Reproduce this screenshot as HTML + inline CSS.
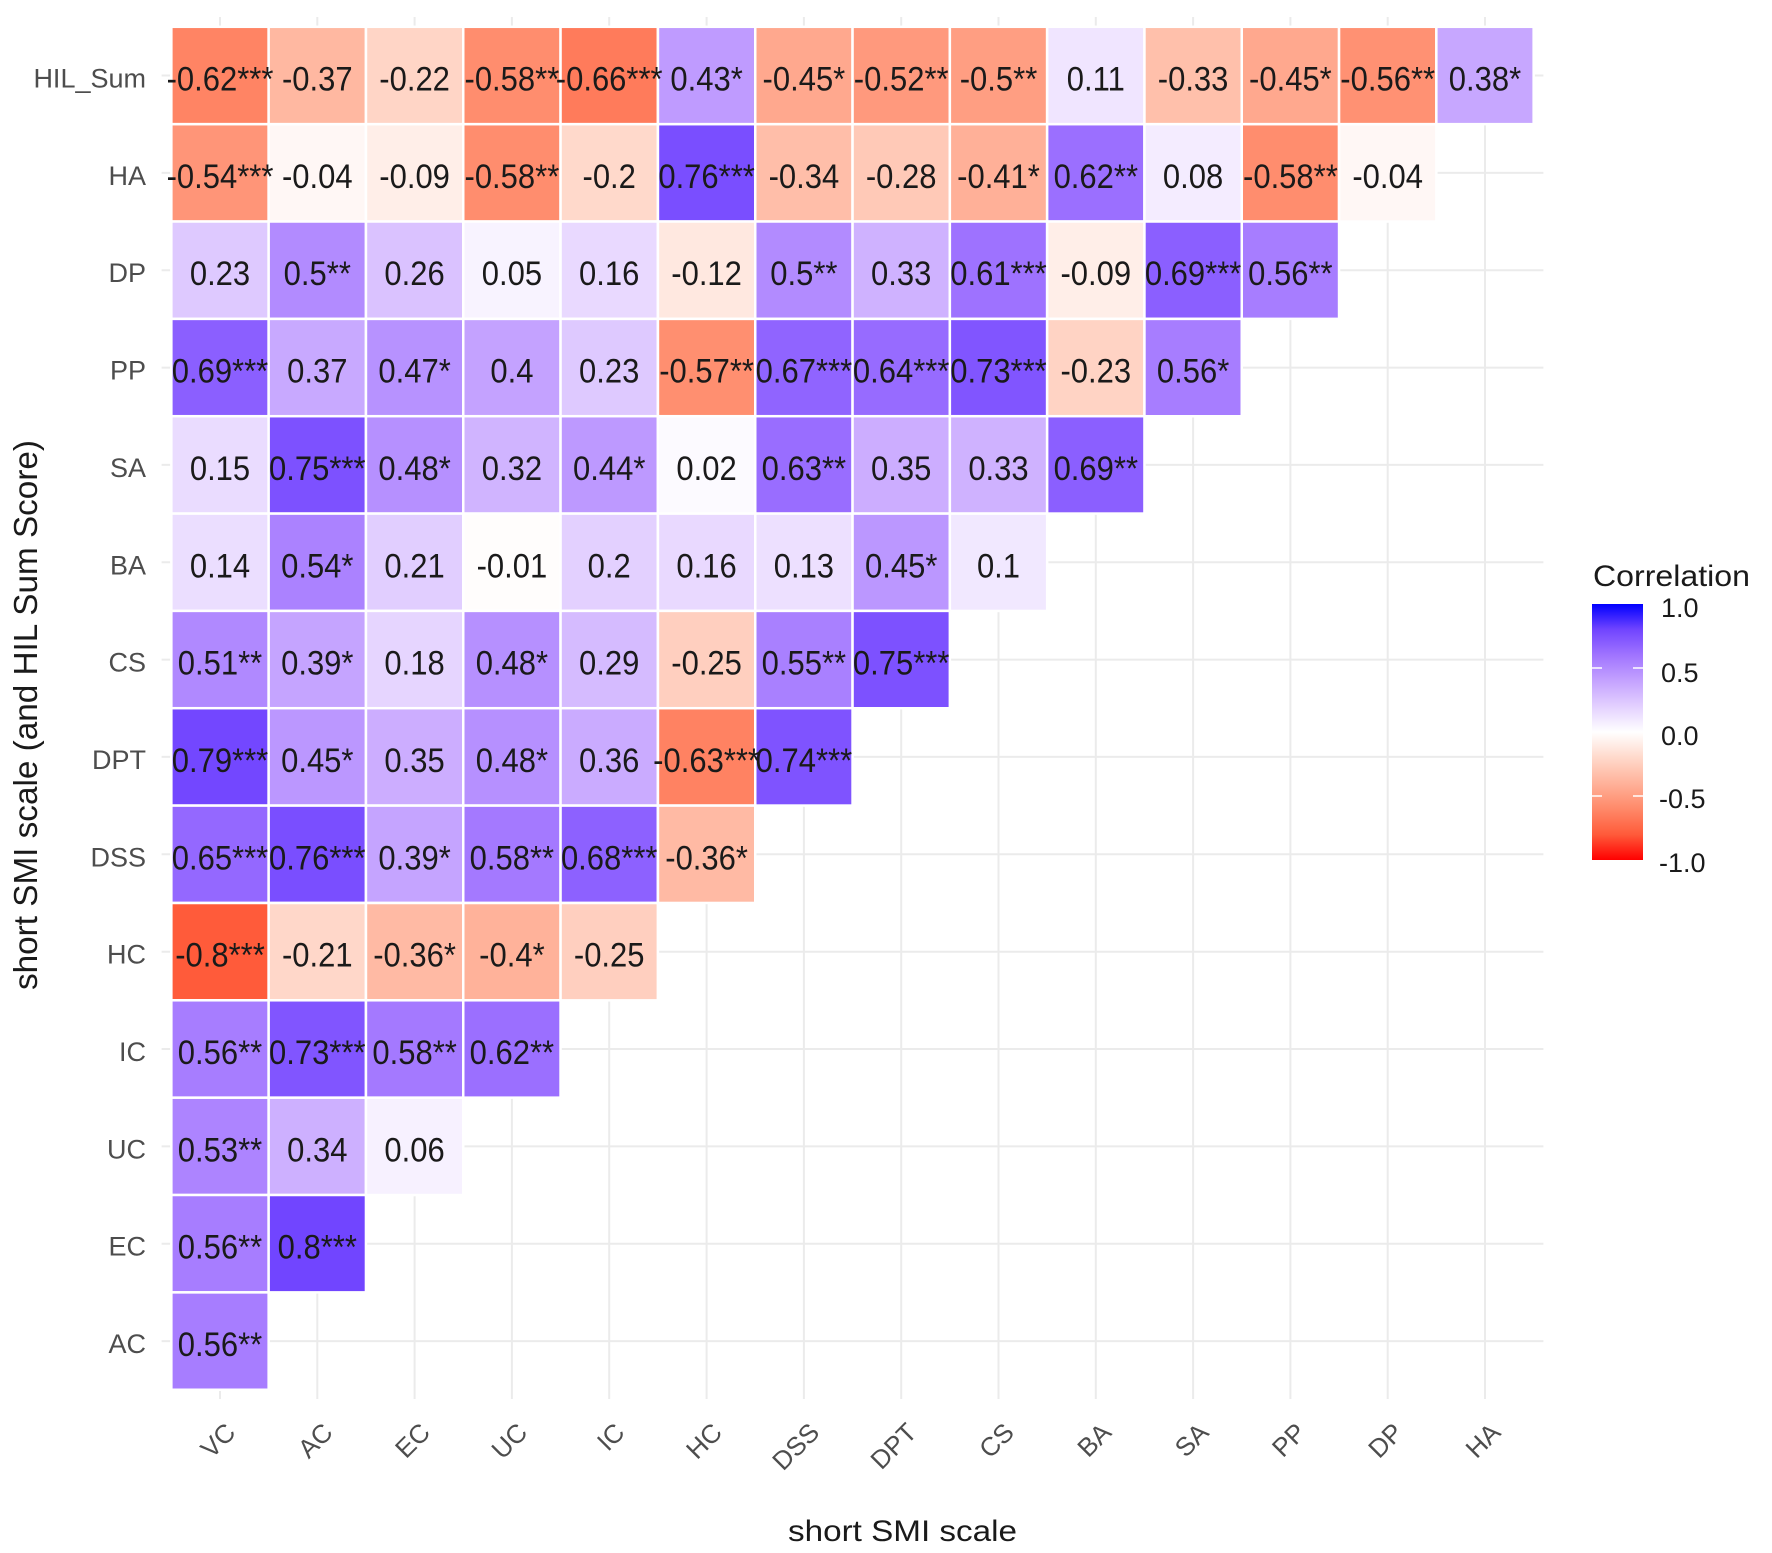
<!DOCTYPE html>
<html><head><meta charset="utf-8"><style>
html,body{margin:0;padding:0;background:#fff;}
svg{display:block;}
text{font-family:"Liberation Sans",Arial,sans-serif;}
</style></head><body>
<svg width="1772" height="1553" viewBox="0 0 1772 1553" xmlns="http://www.w3.org/2000/svg">
<defs>
<linearGradient id="cb" x1="0" y1="0" x2="0" y2="1">
<stop offset="0" stop-color="#0000FF"/>
<stop offset="0.1" stop-color="#7145FF"/>
<stop offset="0.2" stop-color="#A074FF"/>
<stop offset="0.3" stop-color="#C4A2FF"/>
<stop offset="0.4" stop-color="#E3D0FF"/>
<stop offset="0.5" stop-color="#FFFFFF"/>
<stop offset="0.6" stop-color="#FFD9CB"/>
<stop offset="0.7" stop-color="#FFB29A"/>
<stop offset="0.8" stop-color="#FF8969"/>
<stop offset="0.9" stop-color="#FF5B3A"/>
<stop offset="1" stop-color="#FF0000"/>
</linearGradient>
</defs>
<rect width="1772" height="1553" fill="#fff"/>
<!-- gridlines -->
<g stroke="#EBEBEB" stroke-width="2">
<line x1="220" y1="17" x2="220" y2="1399"/><line x1="317.3" y1="17" x2="317.3" y2="1399"/><line x1="414.6" y1="17" x2="414.6" y2="1399"/><line x1="511.9" y1="17" x2="511.9" y2="1399"/><line x1="609.2" y1="17" x2="609.2" y2="1399"/><line x1="706.6" y1="17" x2="706.6" y2="1399"/><line x1="803.9" y1="17" x2="803.9" y2="1399"/><line x1="901.2" y1="17" x2="901.2" y2="1399"/><line x1="998.5" y1="17" x2="998.5" y2="1399"/><line x1="1095.8" y1="17" x2="1095.8" y2="1399"/><line x1="1193.1" y1="17" x2="1193.1" y2="1399"/><line x1="1290.4" y1="17" x2="1290.4" y2="1399"/><line x1="1387.7" y1="17" x2="1387.7" y2="1399"/><line x1="1485" y1="17" x2="1485" y2="1399"/>
<line x1="161.6" y1="75.5" x2="1543.4" y2="75.5"/><line x1="161.6" y1="172.9" x2="1543.4" y2="172.9"/><line x1="161.6" y1="270.2" x2="1543.4" y2="270.2"/><line x1="161.6" y1="367.6" x2="1543.4" y2="367.6"/><line x1="161.6" y1="464.9" x2="1543.4" y2="464.9"/><line x1="161.6" y1="562.3" x2="1543.4" y2="562.3"/><line x1="161.6" y1="659.6" x2="1543.4" y2="659.6"/><line x1="161.6" y1="756.9" x2="1543.4" y2="756.9"/><line x1="161.6" y1="854.3" x2="1543.4" y2="854.3"/><line x1="161.6" y1="951.7" x2="1543.4" y2="951.7"/><line x1="161.6" y1="1049" x2="1543.4" y2="1049"/><line x1="161.6" y1="1146.4" x2="1543.4" y2="1146.4"/><line x1="161.6" y1="1243.7" x2="1543.4" y2="1243.7"/><line x1="161.6" y1="1341.1" x2="1543.4" y2="1341.1"/>
</g>
<!-- tiles -->
<g stroke="#fff" stroke-width="2.5">
<rect x="171.35" y="26.8" width="97.3" height="97.35" fill="#FF8464"/>
<rect x="268.65" y="26.8" width="97.3" height="97.35" fill="#FFB8A1"/>
<rect x="365.95" y="26.8" width="97.3" height="97.35" fill="#FFD5C6"/>
<rect x="463.25" y="26.8" width="97.3" height="97.35" fill="#FF8D6E"/>
<rect x="560.55" y="26.8" width="97.3" height="97.35" fill="#FF7B5B"/>
<rect x="657.95" y="26.8" width="97.3" height="97.35" fill="#BF9BFF"/>
<rect x="755.25" y="26.8" width="97.3" height="97.35" fill="#FFA88E"/>
<rect x="852.55" y="26.8" width="97.3" height="97.35" fill="#FF997D"/>
<rect x="949.85" y="26.8" width="97.3" height="97.35" fill="#FF9E82"/>
<rect x="1047.15" y="26.8" width="97.3" height="97.35" fill="#F0E5FF"/>
<rect x="1144.45" y="26.8" width="97.3" height="97.35" fill="#FFC0AB"/>
<rect x="1241.75" y="26.8" width="97.3" height="97.35" fill="#FFA88E"/>
<rect x="1339.05" y="26.8" width="97.3" height="97.35" fill="#FF9173"/>
<rect x="1436.35" y="26.8" width="97.3" height="97.35" fill="#C7A7FF"/>
<rect x="171.35" y="124.2" width="97.3" height="97.35" fill="#FF9578"/>
<rect x="268.65" y="124.2" width="97.3" height="97.35" fill="#FFF7F5"/>
<rect x="365.95" y="124.2" width="97.3" height="97.35" fill="#FFEEE8"/>
<rect x="463.25" y="124.2" width="97.3" height="97.35" fill="#FF8D6E"/>
<rect x="560.55" y="124.2" width="97.3" height="97.35" fill="#FFD9CB"/>
<rect x="657.95" y="124.2" width="97.3" height="97.35" fill="#7A4EFF"/>
<rect x="755.25" y="124.2" width="97.3" height="97.35" fill="#FFBEA9"/>
<rect x="852.55" y="124.2" width="97.3" height="97.35" fill="#FFC9B7"/>
<rect x="949.85" y="124.2" width="97.3" height="97.35" fill="#FFB098"/>
<rect x="1047.15" y="124.2" width="97.3" height="97.35" fill="#9B6FFF"/>
<rect x="1144.45" y="124.2" width="97.3" height="97.35" fill="#F4ECFF"/>
<rect x="1241.75" y="124.2" width="97.3" height="97.35" fill="#FF8D6E"/>
<rect x="1339.05" y="124.2" width="97.3" height="97.35" fill="#FFF7F5"/>
<rect x="171.35" y="221.5" width="97.3" height="97.35" fill="#DEC9FF"/>
<rect x="268.65" y="221.5" width="97.3" height="97.35" fill="#B28BFF"/>
<rect x="365.95" y="221.5" width="97.3" height="97.35" fill="#DAC2FF"/>
<rect x="463.25" y="221.5" width="97.3" height="97.35" fill="#F8F3FF"/>
<rect x="560.55" y="221.5" width="97.3" height="97.35" fill="#E9D9FF"/>
<rect x="657.95" y="221.5" width="97.3" height="97.35" fill="#FFE8E0"/>
<rect x="755.25" y="221.5" width="97.3" height="97.35" fill="#B28BFF"/>
<rect x="852.55" y="221.5" width="97.3" height="97.35" fill="#CFB2FF"/>
<rect x="949.85" y="221.5" width="97.3" height="97.35" fill="#9E72FF"/>
<rect x="1047.15" y="221.5" width="97.3" height="97.35" fill="#FFEEE8"/>
<rect x="1144.45" y="221.5" width="97.3" height="97.35" fill="#8B5FFF"/>
<rect x="1241.75" y="221.5" width="97.3" height="97.35" fill="#A77DFF"/>
<rect x="171.35" y="318.9" width="97.3" height="97.35" fill="#8B5FFF"/>
<rect x="268.65" y="318.9" width="97.3" height="97.35" fill="#C8A9FF"/>
<rect x="365.95" y="318.9" width="97.3" height="97.35" fill="#B792FF"/>
<rect x="463.25" y="318.9" width="97.3" height="97.35" fill="#C4A2FF"/>
<rect x="560.55" y="318.9" width="97.3" height="97.35" fill="#DEC9FF"/>
<rect x="657.95" y="318.9" width="97.3" height="97.35" fill="#FF8F70"/>
<rect x="755.25" y="318.9" width="97.3" height="97.35" fill="#9064FF"/>
<rect x="852.55" y="318.9" width="97.3" height="97.35" fill="#976BFF"/>
<rect x="949.85" y="318.9" width="97.3" height="97.35" fill="#8155FF"/>
<rect x="1047.15" y="318.9" width="97.3" height="97.35" fill="#FFD3C4"/>
<rect x="1144.45" y="318.9" width="97.3" height="97.35" fill="#A77DFF"/>
<rect x="171.35" y="416.2" width="97.3" height="97.35" fill="#EADCFF"/>
<rect x="268.65" y="416.2" width="97.3" height="97.35" fill="#7D51FF"/>
<rect x="365.95" y="416.2" width="97.3" height="97.35" fill="#B690FF"/>
<rect x="463.25" y="416.2" width="97.3" height="97.35" fill="#D0B4FF"/>
<rect x="560.55" y="416.2" width="97.3" height="97.35" fill="#BD99FF"/>
<rect x="657.95" y="416.2" width="97.3" height="97.35" fill="#FCFAFF"/>
<rect x="755.25" y="416.2" width="97.3" height="97.35" fill="#996DFF"/>
<rect x="852.55" y="416.2" width="97.3" height="97.35" fill="#CCADFF"/>
<rect x="949.85" y="416.2" width="97.3" height="97.35" fill="#CFB2FF"/>
<rect x="1047.15" y="416.2" width="97.3" height="97.35" fill="#8B5FFF"/>
<rect x="171.35" y="513.6" width="97.3" height="97.35" fill="#EBDEFF"/>
<rect x="268.65" y="513.6" width="97.3" height="97.35" fill="#AB82FF"/>
<rect x="365.95" y="513.6" width="97.3" height="97.35" fill="#E1CEFF"/>
<rect x="463.25" y="513.6" width="97.3" height="97.35" fill="#FFFDFC"/>
<rect x="560.55" y="513.6" width="97.3" height="97.35" fill="#E3D0FF"/>
<rect x="657.95" y="513.6" width="97.3" height="97.35" fill="#E9D9FF"/>
<rect x="755.25" y="513.6" width="97.3" height="97.35" fill="#EDE0FF"/>
<rect x="852.55" y="513.6" width="97.3" height="97.35" fill="#BB97FF"/>
<rect x="949.85" y="513.6" width="97.3" height="97.35" fill="#F1E8FF"/>
<rect x="171.35" y="610.9" width="97.3" height="97.35" fill="#B089FF"/>
<rect x="268.65" y="610.9" width="97.3" height="97.35" fill="#C5A4FF"/>
<rect x="365.95" y="610.9" width="97.3" height="97.35" fill="#E6D5FF"/>
<rect x="463.25" y="610.9" width="97.3" height="97.35" fill="#B690FF"/>
<rect x="560.55" y="610.9" width="97.3" height="97.35" fill="#D5BBFF"/>
<rect x="657.95" y="610.9" width="97.3" height="97.35" fill="#FFCFBF"/>
<rect x="755.25" y="610.9" width="97.3" height="97.35" fill="#A980FF"/>
<rect x="852.55" y="610.9" width="97.3" height="97.35" fill="#7D51FF"/>
<rect x="171.35" y="708.2" width="97.3" height="97.35" fill="#7347FF"/>
<rect x="268.65" y="708.2" width="97.3" height="97.35" fill="#BB97FF"/>
<rect x="365.95" y="708.2" width="97.3" height="97.35" fill="#CCADFF"/>
<rect x="463.25" y="708.2" width="97.3" height="97.35" fill="#B690FF"/>
<rect x="560.55" y="708.2" width="97.3" height="97.35" fill="#CAABFF"/>
<rect x="657.95" y="708.2" width="97.3" height="97.35" fill="#FF8262"/>
<rect x="755.25" y="708.2" width="97.3" height="97.35" fill="#7F53FF"/>
<rect x="171.35" y="805.6" width="97.3" height="97.35" fill="#9468FF"/>
<rect x="268.65" y="805.6" width="97.3" height="97.35" fill="#7A4EFF"/>
<rect x="365.95" y="805.6" width="97.3" height="97.35" fill="#C5A4FF"/>
<rect x="463.25" y="805.6" width="97.3" height="97.35" fill="#A479FF"/>
<rect x="560.55" y="805.6" width="97.3" height="97.35" fill="#8D61FF"/>
<rect x="657.95" y="805.6" width="97.3" height="97.35" fill="#FFBAA4"/>
<rect x="171.35" y="903" width="97.3" height="97.35" fill="#FF5B3A"/>
<rect x="268.65" y="903" width="97.3" height="97.35" fill="#FFD7C9"/>
<rect x="365.95" y="903" width="97.3" height="97.35" fill="#FFBAA4"/>
<rect x="463.25" y="903" width="97.3" height="97.35" fill="#FFB29A"/>
<rect x="560.55" y="903" width="97.3" height="97.35" fill="#FFCFBF"/>
<rect x="171.35" y="1000.3" width="97.3" height="97.35" fill="#A77DFF"/>
<rect x="268.65" y="1000.3" width="97.3" height="97.35" fill="#8155FF"/>
<rect x="365.95" y="1000.3" width="97.3" height="97.35" fill="#A479FF"/>
<rect x="463.25" y="1000.3" width="97.3" height="97.35" fill="#9B6FFF"/>
<rect x="171.35" y="1097.7" width="97.3" height="97.35" fill="#AD84FF"/>
<rect x="268.65" y="1097.7" width="97.3" height="97.35" fill="#CDB0FF"/>
<rect x="365.95" y="1097.7" width="97.3" height="97.35" fill="#F7F1FF"/>
<rect x="171.35" y="1195" width="97.3" height="97.35" fill="#A77DFF"/>
<rect x="268.65" y="1195" width="97.3" height="97.35" fill="#7145FF"/>
<rect x="171.35" y="1292.4" width="97.3" height="97.35" fill="#A77DFF"/>
</g>
<!-- tile labels -->
<g transform="scale(1,1.1)" font-size="31" fill="#1a1a1a" text-anchor="middle">
<text x="220" y="82.27">-0.62***</text><text x="317.3" y="82.27">-0.37</text><text x="414.6" y="82.27">-0.22</text><text x="511.9" y="82.27">-0.58**</text><text x="609.2" y="82.27">-0.66***</text><text x="706.6" y="82.27">0.43*</text><text x="803.9" y="82.27">-0.45*</text><text x="901.2" y="82.27">-0.52**</text><text x="998.5" y="82.27">-0.5**</text><text x="1095.8" y="82.27">0.11</text><text x="1193.1" y="82.27">-0.33</text><text x="1290.4" y="82.27">-0.45*</text><text x="1387.7" y="82.27">-0.56**</text><text x="1485" y="82.27">0.38*</text>
<text x="220" y="170.82">-0.54***</text><text x="317.3" y="170.82">-0.04</text><text x="414.6" y="170.82">-0.09</text><text x="511.9" y="170.82">-0.58**</text><text x="609.2" y="170.82">-0.2</text><text x="706.6" y="170.82">0.76***</text><text x="803.9" y="170.82">-0.34</text><text x="901.2" y="170.82">-0.28</text><text x="998.5" y="170.82">-0.41*</text><text x="1095.8" y="170.82">0.62**</text><text x="1193.1" y="170.82">0.08</text><text x="1290.4" y="170.82">-0.58**</text><text x="1387.7" y="170.82">-0.04</text>
<text x="220" y="259.27">0.23</text><text x="317.3" y="259.27">0.5**</text><text x="414.6" y="259.27">0.26</text><text x="511.9" y="259.27">0.05</text><text x="609.2" y="259.27">0.16</text><text x="706.6" y="259.27">-0.12</text><text x="803.9" y="259.27">0.5**</text><text x="901.2" y="259.27">0.33</text><text x="998.5" y="259.27">0.61***</text><text x="1095.8" y="259.27">-0.09</text><text x="1193.1" y="259.27">0.69***</text><text x="1290.4" y="259.27">0.56**</text>
<text x="220" y="347.82">0.69***</text><text x="317.3" y="347.82">0.37</text><text x="414.6" y="347.82">0.47*</text><text x="511.9" y="347.82">0.4</text><text x="609.2" y="347.82">0.23</text><text x="706.6" y="347.82">-0.57**</text><text x="803.9" y="347.82">0.67***</text><text x="901.2" y="347.82">0.64***</text><text x="998.5" y="347.82">0.73***</text><text x="1095.8" y="347.82">-0.23</text><text x="1193.1" y="347.82">0.56*</text>
<text x="220" y="436.27">0.15</text><text x="317.3" y="436.27">0.75***</text><text x="414.6" y="436.27">0.48*</text><text x="511.9" y="436.27">0.32</text><text x="609.2" y="436.27">0.44*</text><text x="706.6" y="436.27">0.02</text><text x="803.9" y="436.27">0.63**</text><text x="901.2" y="436.27">0.35</text><text x="998.5" y="436.27">0.33</text><text x="1095.8" y="436.27">0.69**</text>
<text x="220" y="524.82">0.14</text><text x="317.3" y="524.82">0.54*</text><text x="414.6" y="524.82">0.21</text><text x="511.9" y="524.82">-0.01</text><text x="609.2" y="524.82">0.2</text><text x="706.6" y="524.82">0.16</text><text x="803.9" y="524.82">0.13</text><text x="901.2" y="524.82">0.45*</text><text x="998.5" y="524.82">0.1</text>
<text x="220" y="613.27">0.51**</text><text x="317.3" y="613.27">0.39*</text><text x="414.6" y="613.27">0.18</text><text x="511.9" y="613.27">0.48*</text><text x="609.2" y="613.27">0.29</text><text x="706.6" y="613.27">-0.25</text><text x="803.9" y="613.27">0.55**</text><text x="901.2" y="613.27">0.75***</text>
<text x="220" y="701.73">0.79***</text><text x="317.3" y="701.73">0.45*</text><text x="414.6" y="701.73">0.35</text><text x="511.9" y="701.73">0.48*</text><text x="609.2" y="701.73">0.36</text><text x="706.6" y="701.73">-0.63***</text><text x="803.9" y="701.73">0.74***</text>
<text x="220" y="790.27">0.65***</text><text x="317.3" y="790.27">0.76***</text><text x="414.6" y="790.27">0.39*</text><text x="511.9" y="790.27">0.58**</text><text x="609.2" y="790.27">0.68***</text><text x="706.6" y="790.27">-0.36*</text>
<text x="220" y="878.82">-0.8***</text><text x="317.3" y="878.82">-0.21</text><text x="414.6" y="878.82">-0.36*</text><text x="511.9" y="878.82">-0.4*</text><text x="609.2" y="878.82">-0.25</text>
<text x="220" y="967.27">0.56**</text><text x="317.3" y="967.27">0.73***</text><text x="414.6" y="967.27">0.58**</text><text x="511.9" y="967.27">0.62**</text>
<text x="220" y="1055.82">0.53**</text><text x="317.3" y="1055.82">0.34</text><text x="414.6" y="1055.82">0.06</text>
<text x="220" y="1144.27">0.56**</text><text x="317.3" y="1144.27">0.8***</text>
<text x="220" y="1232.82">0.56**</text>
</g>
<!-- y axis labels -->
<g font-size="27" fill="#4D4D4D" text-anchor="end">
<text x="146" y="87.5">HIL_Sum</text>
<text x="146" y="184.9">HA</text>
<text x="146" y="282.2">DP</text>
<text x="146" y="379.6">PP</text>
<text x="146" y="476.9">SA</text>
<text x="146" y="574.3">BA</text>
<text x="146" y="671.6">CS</text>
<text x="146" y="768.9">DPT</text>
<text x="146" y="866.3">DSS</text>
<text x="146" y="963.7">HC</text>
<text x="146" y="1061">IC</text>
<text x="146" y="1158.4">UC</text>
<text x="146" y="1255.7">EC</text>
<text x="146" y="1353.1">AC</text>
</g>
<!-- x axis labels -->
<g font-size="26" fill="#4D4D4D" text-anchor="end">
<text transform="translate(237,1434) rotate(-45)">VC</text>
<text transform="translate(334.3,1434) rotate(-45)">AC</text>
<text transform="translate(431.6,1434) rotate(-45)">EC</text>
<text transform="translate(528.9,1434) rotate(-45)">UC</text>
<text transform="translate(626.2,1434) rotate(-45)">IC</text>
<text transform="translate(723.6,1434) rotate(-45)">HC</text>
<text transform="translate(820.9,1434) rotate(-45)">DSS</text>
<text transform="translate(918.2,1434) rotate(-45)">DPT</text>
<text transform="translate(1015.5,1434) rotate(-45)">CS</text>
<text transform="translate(1112.8,1434) rotate(-45)">BA</text>
<text transform="translate(1210.1,1434) rotate(-45)">SA</text>
<text transform="translate(1307.4,1434) rotate(-45)">PP</text>
<text transform="translate(1404.7,1434) rotate(-45)">DP</text>
<text transform="translate(1502,1434) rotate(-45)">HA</text>
</g>
<!-- axis titles -->
<text x="902.5" y="1541" font-size="30" fill="#1a1a1a" text-anchor="middle" textLength="229" lengthAdjust="spacingAndGlyphs">short SMI scale</text>
<text transform="translate(37,715) rotate(-90)" font-size="33" fill="#1a1a1a" text-anchor="middle" textLength="550" lengthAdjust="spacingAndGlyphs">short SMI scale (and HIL Sum Score)</text>
<!-- legend -->
<text x="1593" y="586" font-size="30" fill="#1a1a1a" textLength="157" lengthAdjust="spacingAndGlyphs">Correlation</text>
<rect x="1592" y="604" width="51" height="256" fill="url(#cb)"/>
<g stroke="#fff" stroke-width="1.5">
<line x1="1592" y1="668" x2="1602" y2="668"/><line x1="1633" y1="668" x2="1643" y2="668"/>
<line x1="1592" y1="732" x2="1602" y2="732"/><line x1="1633" y1="732" x2="1643" y2="732"/>
<line x1="1592" y1="796" x2="1602" y2="796"/><line x1="1633" y1="796" x2="1643" y2="796"/>
</g>
<g font-size="27" fill="#1a1a1a">
<text x="1661" y="617">1.0</text>
<text x="1661" y="682">0.5</text>
<text x="1661" y="745">0.0</text>
<text x="1659" y="808">-0.5</text>
<text x="1659" y="872">-1.0</text>
</g>
</svg>
</body></html>
